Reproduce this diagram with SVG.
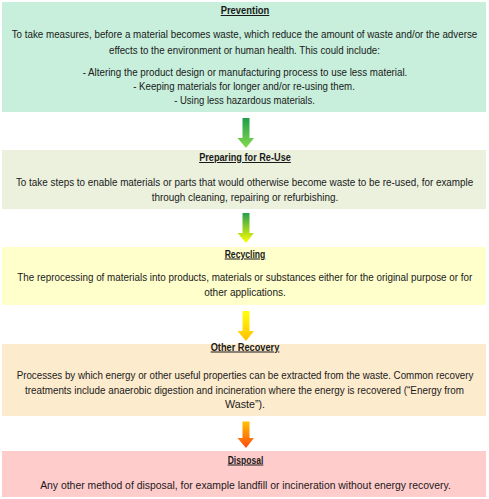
<svg xmlns="http://www.w3.org/2000/svg" width="489" height="499" viewBox="0 0 489 499">
<style>
text{font-family:"Liberation Sans",Arial,sans-serif;font-size:10px;fill:#1a1a1a;text-anchor:middle}
.h{font-weight:bold;text-decoration:underline}
</style>
<defs>
<linearGradient id="g1" x1="0" y1="0" x2="0" y2="1"><stop offset="0" stop-color="#1f9e4a"/><stop offset="1" stop-color="#86d94f"/></linearGradient>
<linearGradient id="g2" x1="0" y1="0" x2="0" y2="1"><stop offset="0" stop-color="#25a04c"/><stop offset="1" stop-color="#ffff00"/></linearGradient>
<linearGradient id="g3" x1="0" y1="0" x2="0" y2="1"><stop offset="0" stop-color="#ffff10"/><stop offset="1" stop-color="#ffc000"/></linearGradient>
<linearGradient id="g4" x1="0" y1="0" x2="0" y2="1"><stop offset="0" stop-color="#ffc000"/><stop offset="1" stop-color="#ff4a10"/></linearGradient>
</defs>
<rect width="489" height="499" fill="#ffffff"/>
<g id="prevention">
<rect x="2" y="2" width="484" height="110" fill="#c7efdb"/>
<text class="h" x="245" y="14" textLength="48.6" lengthAdjust="spacingAndGlyphs">Prevention</text>
<text x="244.5" y="38" textLength="465.6" lengthAdjust="spacingAndGlyphs">To take measures, before a material becomes waste, which reduce the amount of waste and/or the adverse</text>
<text x="244.5" y="53.5" textLength="271" lengthAdjust="spacingAndGlyphs">effects to the environment or human health. This could include:</text>
<text x="245" y="75.5" textLength="324.7" lengthAdjust="spacingAndGlyphs">- Altering the product design or manufacturing process to use less material.</text>
<text x="244" y="89.5" textLength="221.7" lengthAdjust="spacingAndGlyphs">- Keeping materials for longer and/or re-using them.</text>
<text x="244.5" y="104" textLength="140.7" lengthAdjust="spacingAndGlyphs">- Using less hazardous materials.</text>
</g>
<g id="reuse">
<rect x="2" y="150" width="484" height="59" fill="#ebf1dd"/>
<text class="h" x="245" y="161" textLength="91.7" lengthAdjust="spacingAndGlyphs">Preparing for Re-Use</text>
<text x="244.6" y="185.5" textLength="457.3" lengthAdjust="spacingAndGlyphs">To take steps to enable materials or parts that would otherwise become waste to be re-used, for example</text>
<text x="245" y="201" textLength="186.7" lengthAdjust="spacingAndGlyphs">through cleaning, repairing or refurbishing.</text>
</g>
<g id="recycling">
<rect x="2" y="247" width="484" height="58" fill="#ffffcc"/>
<text class="h" x="245" y="257.5" textLength="40.7" lengthAdjust="spacingAndGlyphs">Recycling</text>
<text x="244.8" y="281" textLength="455" lengthAdjust="spacingAndGlyphs">The reprocessing of materials into products, materials or substances either for the original purpose or for</text>
<text x="245" y="296.3" textLength="81.7" lengthAdjust="spacingAndGlyphs">other applications.</text>
</g>
<g id="recovery">
<rect x="2" y="344" width="484" height="72" fill="#fdebcd"/>
<text class="h" x="245" y="350.5" textLength="68.7" lengthAdjust="spacingAndGlyphs">Other Recovery</text>
<text x="245" y="379" textLength="456.7" lengthAdjust="spacingAndGlyphs">Processes by which energy or other useful properties can be extracted from the waste. Common recovery</text>
<text x="244.5" y="393.5" textLength="439" lengthAdjust="spacingAndGlyphs">treatments include anaerobic digestion and incineration where the energy is recovered (“Energy from</text>
<text x="245" y="408" textLength="40" lengthAdjust="spacingAndGlyphs">Waste”).</text>
</g>
<g id="disposal">
<rect x="2" y="451" width="484" height="46" fill="#ffcccc"/>
<text class="h" x="245.5" y="463.5" textLength="35.6" lengthAdjust="spacingAndGlyphs">Disposal</text>
<text x="245.5" y="489" textLength="410.7" lengthAdjust="spacingAndGlyphs">Any other method of disposal, for example landfill or incineration without energy recovery.</text>
</g>
<g id="connectors">
<polygon points="242.5,118 249.5,118 249.5,138 254,138 246,148 237.5,138 242.5,138" fill="url(#g1)"/>
<polygon points="242.5,213 249.5,213 249.5,233 254,233 246,243 237.5,233 242.5,233" fill="url(#g2)"/>
<polygon points="242.5,311 249.5,311 249.5,331 254,331 246,341 237.5,331 242.5,331" fill="url(#g3)"/>
<polygon points="242.5,421.5 249.5,421.5 249.5,438 254,438 246,448 237.5,438 242.5,438" fill="url(#g4)"/>
</g>
</svg>
